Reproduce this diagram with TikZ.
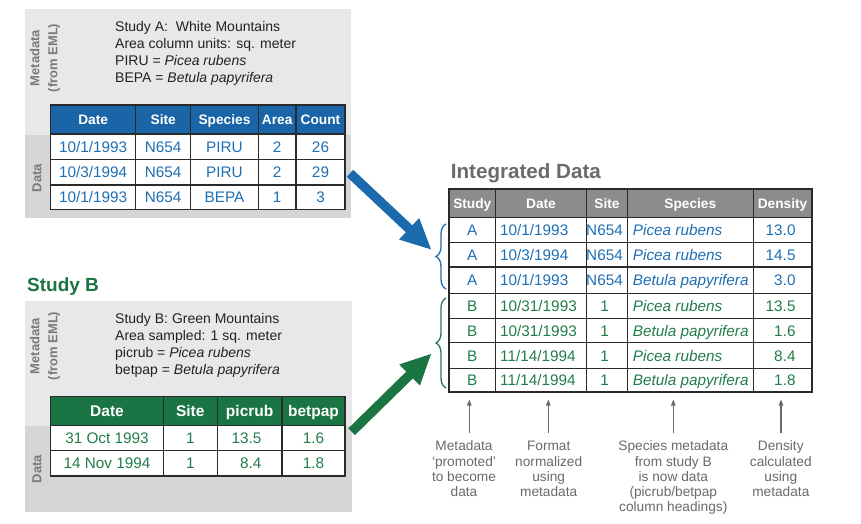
\documentclass[tikz,border=0pt]{standalone}
\usepackage{fontspec}
\setmainfont{Liberation Sans}
\usetikzlibrary{arrows.meta,decorations.pathreplacing}
\definecolor{blueH}{HTML}{1A65A8}
\definecolor{blueT}{HTML}{1E6FB4}
\definecolor{blueA}{HTML}{1A6AAD}
\definecolor{greenH}{HTML}{1B7443}
\definecolor{greenT}{HTML}{227D4A}
\definecolor{greenA}{HTML}{1B7543}
\definecolor{panelL}{HTML}{E8E8EA}
\definecolor{panelD}{HTML}{D5D5D8}
\definecolor{gridc}{HTML}{2A2A2A}
\definecolor{hgray}{HTML}{8C8C8C}
\definecolor{titleg}{HTML}{6B6B6B}
\definecolor{sidec}{HTML}{7A7A7A}
\definecolor{metac}{HTML}{222222}
\definecolor{notec}{HTML}{6A6A6A}
\newcommand\ARowX[7]{%
  \node[cellA] (#1a) at (93.2,#2) {#3};
  \node[cellA] (#1b) at (163.2,#2) {#4};
  \node[cellA] (#1c) at (224.5,#2) {#5};
  \node[cellA] (#1d) at (277.2,#2) {#6};
  \node[cellA] (#1e) at (320.5,#2) {#7};}
\newcommand\BRowX[6]{%
  \node[cellB] (#1a) at (107,#2) {#3};
  \node[cellB] (#1b) at (190.3,#2) {#4};
  \node[cellB,anchor=base east] (#1c) at (261.5,#2) {#5};
  \node[cellB] (#1d) at (313.5,#2) {#6};}
\newcommand\IntRowX[8]{%
  \node[icell,text=#3] (#1s) at (472.3,#2) {#4};
  \node[icell,text=#3,anchor=base west] (#1d) at (500,#2) {#5};
  \node[icell,text=#3] (#1t) at (604.5,#2) {#6};
  \node[icell,text=#3,anchor=base west] (#1p) at (632.7,#2) {\itshape #7};
  \node[icell,text=#3,anchor=base east] (#1n) at (795.7,#2) {#8};}
\begin{document}
\begin{tikzpicture}[x=1pt,y=-1pt,
  gridl/.style={draw=gridc, line width=1.3pt},
  hdr/.style={text=white, font=\bfseries\fontsize{13.7}{16}\selectfont, anchor=base, inner sep=0pt},
  hdrB/.style={hdr, font=\bfseries\fontsize{15.5}{18}\selectfont},
  cellA/.style={text=blueT, font=\fontsize{15.3}{18}\selectfont, anchor=base, inner sep=0pt},
  cellB/.style={text=greenT, font=\fontsize{15.3}{18}\selectfont, anchor=base, inner sep=0pt},
  icell/.style={font=\fontsize{15.3}{18}\selectfont, anchor=base, inner sep=0pt},
  meta/.style={text=metac, font=\fontsize{14}{17}\selectfont, anchor=base west, inner sep=0pt},
  side/.style={text=sidec, font=\bfseries\fontsize{13}{18}\selectfont, rotate=90, align=center, inner sep=0pt},
  note/.style={text=notec, font=\fontsize{13.7}{15.3}\selectfont, anchor=base, inner sep=0pt},
  bigarrow/.style={line width=9.5pt, -{Triangle[length=31pt,width=27pt]}},
  smallarrow/.style={draw=notec, line width=1.2pt, -{Triangle[length=6pt,width=4.5pt]}},
  bracel/.style={decorate, decoration={brace, amplitude=10pt}, line width=1.3pt}
]
\useasboundingbox (0,0) rectangle (861,524);
\fill[white] (0,0) rectangle (861,524);

% ---------- Study A panel ----------
\fill[panelL] (25,9) rectangle (351,135);
\fill[panelD] (25,135) rectangle (351,218);
\node[side] (sideAm) at (45,58) {Metadata\\(from EML)};
\node[side] (sideAd) at (37,178) {Data};
\node[meta] (mA1) at (115,31.7) {Study A:\ \ White Mountains};
\node[meta] (mA2) at (115,48.8) {Area column units: sq. meter};
\node[meta] (mA3) at (115,65.9) {PIRU = \textit{Picea rubens}};
\node[meta] (mA4) at (115,83) {BEPA = \textit{Betula papyrifera}};
\fill[white] (50.7,134) rectangle (345,209.5);
\fill[blueH] (50.7,105) rectangle (345,134);
\foreach \y in {134,159.5,185} \draw[gridl] (50.7,\y) -- (345,\y);
\foreach \x in {135.7,190.7,258.3,296} \draw[gridl] (\x,105) -- (\x,209.5);
\draw[gridl] (50.7,105) rectangle (345,209.5);
\node[hdr] (ah1) at (93.2,124.4) {Date};
\node[hdr] (ah2) at (163.2,124.4) {Site};
\node[hdr] (ah3) at (224.5,124.4) {Species};
\node[hdr] (ah4) at (277.2,124.4) {Area};
\node[hdr] (ah5) at (320.5,124.4) {Count};
\ARowX{ar1}{152.3}{10/1/1993}{N654}{PIRU}{2}{26}
\ARowX{ar2}{177.7}{10/3/1994}{N654}{PIRU}{2}{29}
\ARowX{ar3}{202.7}{10/1/1993}{N654}{BEPA}{1}{3}

% ---------- Study B panel ----------
\node[text=greenH, font=\bfseries\fontsize{19}{22}\selectfont, anchor=base west, inner sep=0pt] (titleB) at (27,291.7) {Study B};
\fill[panelL] (25,301) rectangle (352,426);
\fill[panelD] (25,426) rectangle (352,512);
\node[side] (sideBm) at (45,346) {Metadata\\(from EML)};
\node[side] (sideBd) at (37,469) {Data};
\node[meta] (mB1) at (115,323.3) {Study B: Green Mountains};
\node[meta] (mB2) at (115,340.3) {Area sampled: 1 sq. meter};
\node[meta] (mB3) at (115,357.3) {picrub = \textit{Picea rubens}};
\node[meta] (mB4) at (115,374.3) {betpap = \textit{Betula papyrifera}};
\fill[white] (50.7,425.7) rectangle (345,476);
\fill[greenH] (50.7,396.7) rectangle (345,425.7);
\foreach \y in {425.7,450.7} \draw[gridl] (50.7,\y) -- (345,\y);
\foreach \x in {163.3,217.3,282} \draw[gridl] (\x,396.7) -- (\x,476);
\draw[gridl] (50.7,396.7) rectangle (345,476);
\node[hdrB] (bh1) at (107,416.7) {Date};
\node[hdrB] (bh2) at (190.3,416.7) {Site};
\node[hdrB] (bh3) at (249.65,416.7) {picrub};
\node[hdrB] (bh4) at (313.5,416.7) {betpap};
\BRowX{br1}{443.7}{31 Oct 1993}{1}{13.5}{1.6}
\BRowX{br2}{468.9}{14 Nov 1994}{1}{8.4}{1.8}

% ---------- Integrated table ----------
\node[text=titleg, font=\bfseries\fontsize{20.6}{24}\selectfont, anchor=base west, inner sep=0pt] (titleI) at (450.7,178.3) {Integrated Data};
\fill[hgray] (449.3,189.3) rectangle (811.7,217.3);
\foreach \y in {217.3,242.7,293.3,318.3,342.7,368.3} \draw[gridl] (449.3,\y) -- (811.7,\y);
\draw[gridl, line width=1.8pt] (449.3,267.3) -- (811.7,267.3);
\foreach \x in {495.3,586.7,627.3,753.3} \draw[gridl] (\x,189.3) -- (\x,392.3);
\draw[gridl, line width=2pt] (449.3,189.3) rectangle (811.7,392.3);
\node[hdr] (ih1) at (472.3,208.2) {Study};
\node[hdr] (ih2) at (541,208.2) {Date};
\node[hdr] (ih3) at (607,208.2) {Site};
\node[hdr] (ih4) at (690.3,208.2) {Species};
\node[hdr] (ih5) at (782.5,208.2) {Density};
\IntRowX{ir1}{235.5}{blueT}{A}{10/1/1993}{N654}{Picea rubens}{13.0}
\IntRowX{ir2}{260.5}{blueT}{A}{10/3/1994}{N654}{Picea rubens}{14.5}
\IntRowX{ir3}{285.8}{blueT}{A}{10/1/1993}{N654}{Betula papyrifera}{3.0}
\IntRowX{ir4}{311.3}{greenT}{B}{10/31/1993}{1}{Picea rubens}{13.5}
\IntRowX{ir5}{336}{greenT}{B}{10/31/1993}{1}{Betula papyrifera}{1.6}
\IntRowX{ir6}{361}{greenT}{B}{11/14/1994}{1}{Picea rubens}{8.4}
\IntRowX{ir7}{385.8}{greenT}{B}{11/14/1994}{1}{Betula papyrifera}{1.8}

% ---------- braces ----------
\coordinate (braceAb) at (446,289);
\coordinate (braceAt) at (446,224);
\coordinate (braceBb) at (446,388);
\coordinate (braceBt) at (446,298);
\draw[bracel, draw=blueT] (braceAb) -- (braceAt);
\draw[bracel, draw=greenT] (braceBb) -- (braceBt);

% ---------- big arrows ----------
\coordinate (arrAt) at (350,173.3);
\coordinate (arrAh) at (431.7,250);
\coordinate (arrBt) at (351.7,431.7);
\coordinate (arrBh) at (431.7,353.3);
\draw[bigarrow, draw=blueA, fill=blueA] (arrAt) -- (arrAh);
\draw[bigarrow, draw=greenA, fill=greenA] (arrBt) -- (arrBh);

% ---------- notes ----------
\coordinate (n1b) at (469.3,433.3); \coordinate (n1t) at (469.3,399.5);
\coordinate (n2b) at (548.3,433.3); \coordinate (n2t) at (548.3,399.5);
\coordinate (n3b) at (673.3,433.3); \coordinate (n3t) at (673.3,399.5);
\coordinate (n4b) at (781,433.3);   \coordinate (n4t) at (781,399.5);
\draw[smallarrow] (n1b) -- (n1t);
\draw[smallarrow] (n2b) -- (n2t);
\draw[smallarrow] (n3b) -- (n3t);
\draw[smallarrow] (n4b) -- (n4t);

\node[note] (t11) at (464,450.7) {Metadata};
\node[note] (t12) at (464,466) {‘promoted’};
\node[note] (t13) at (464,481.3) {to become};
\node[note] (t14) at (464,496.6) {data};

\node[note] (t21) at (548.7,450.7) {Format};
\node[note] (t22) at (548.7,466) {normalized};
\node[note] (t23) at (548.7,481.3) {using};
\node[note] (t24) at (548.7,496.6) {metadata};

\node[note] (t31) at (673.3,450.7) {Species metadata};
\node[note] (t32) at (673.3,466) {from study B};
\node[note] (t33) at (673.3,481.3) {is now data};
\node[note] (t34) at (673.3,496.6) {(picrub/betpap};
\node[note] (t35) at (673.3,511.9) {column headings)};

\node[note] (t41) at (780.8,450.7) {Density};
\node[note] (t42) at (780.8,466) {calculated};
\node[note] (t43) at (780.8,481.3) {using};
\node[note] (t44) at (780.8,496.6) {metadata};
\end{tikzpicture}
\end{document}
